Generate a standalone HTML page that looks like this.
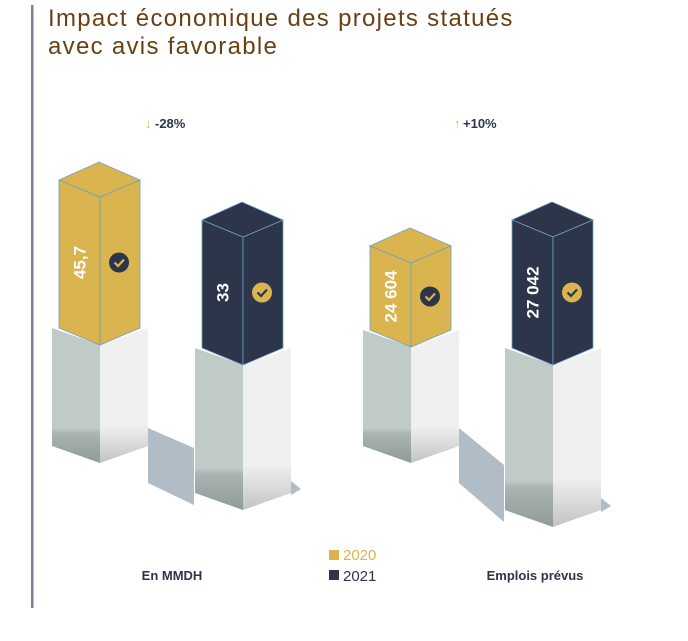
<!DOCTYPE html>
<html><head><meta charset="utf-8"><style>
body{margin:0;background:#fff;width:688px;height:636px;overflow:hidden;font-family:"Liberation Sans",sans-serif}
</style></head><body>
<svg width="688" height="636" viewBox="0 0 688 636">
<defs>
<linearGradient id="gl" x1="0" y1="0" x2="0" y2="1"><stop offset="0" stop-color="#c0cac6"/><stop offset="0.74" stop-color="#c0cac6"/><stop offset="0.78" stop-color="#aab4b2"/><stop offset="1" stop-color="#8f9a9a"/></linearGradient>
<linearGradient id="gr" x1="0" y1="0" x2="0" y2="1"><stop offset="0" stop-color="#f0f0f0"/><stop offset="0.72" stop-color="#f0f0f0"/><stop offset="1" stop-color="#c2c4c4"/></linearGradient>
</defs>
<rect x="31" y="5" width="2.5" height="603" fill="#7b8294"/>
<text x="48" y="26" font-size="24" letter-spacing="1.3" fill="#6b3f14">Impact économique des projets statués</text>
<text x="48" y="54" font-size="24" letter-spacing="1.3" fill="#6b3f14">avec avis favorable</text>
<g id="marks"></g>
<g><text x="145" y="128" font-size="13" fill="#d9b44f" font-weight="bold">↓</text><text x="155" y="128" font-size="13" font-weight="bold" fill="#2c3549">-28%</text></g>
<g><text x="454" y="128" font-size="13" fill="#d9b44f" font-weight="bold">↑</text><text x="463" y="128" font-size="13" font-weight="bold" fill="#2c3549">+10%</text></g>
<text x="172" y="580" font-size="13" font-weight="bold" fill="#2c3549" text-anchor="middle">En MMDH</text>
<text x="535" y="580" font-size="13" font-weight="bold" fill="#2c3549" text-anchor="middle">Emplois prévus</text>
<g><rect x="329" y="550" width="10" height="10" fill="#d9b44f"/><text x="343" y="560" font-size="15" fill="#d9b44f">2020</text></g>
<g><rect x="329" y="570" width="10" height="10" fill="#2c3549"/><text x="343" y="581" font-size="15" fill="#2c3549">2021</text></g>
</svg>
<script>
const categories = ["En MMDH", "Emplois prévus"];
const series2020 = [45.7, 24604];
const series2021 = [33, 27042];
const labels2020 = ["45,7", "24 604"];
const labels2021 = ["33", "27 042"];

const NS = "http://www.w3.org/2000/svg";
const g = document.getElementById("marks");
function scaleMMDH(v){ return 76 + 1.575 * v; }
function scaleEmplois(v){ return -360 + 0.01805 * v; }
const scales = [scaleMMDH, scaleEmplois];
const layout = [
  {x:[59,202], base:[345,365], pedBottom:[463,510]},
  {x:[370,512], base:[347,365], pedBottom:[463,527]}
];
function poly(pts, fill, name, stroke){
  const p = document.createElementNS(NS, "polygon");
  p.setAttribute("points", pts.map(a=>a.join(",")).join(" "));
  p.setAttribute("fill", fill);
  if (stroke){ p.setAttribute("stroke", stroke); p.setAttribute("stroke-width", "0.8"); }
  
  
  g.appendChild(p);
  return p;
}
const S = 17;
function pedestal(xl, xm, xr, top, bottom, name){
  poly([[xl,top-S],[xm,top],[xm,bottom],[xl,bottom-S]], "url(#gl)", name + "-left");
  poly([[xm,top],[xr,top-S],[xr,bottom-S],[xm,bottom]], "url(#gr)", name + "-right");
}
function bar(xl, xm, xr, base, h, color, label, checkColor, name){
  const t = base - h;
  const edge = "#6fa0c0";
  poly([[xl,t-S],[xm,t],[xm,base],[xl,base-S]], color, name + "-left", edge);
  poly([[xm,t],[xr,t-S],[xr,base-S],[xm,base]], color, name + "-right", edge);
  poly([[xl,t-S],[xm-1,t-2*S-1],[xr,t-S],[xm,t]], color, name + "-top", edge);
  const cy = (t + base) / 2 - S / 2;
  const tx = document.createElementNS(NS, "text");
  const lx = (xl + xm) / 2 + 6;
  tx.setAttribute("x", lx); tx.setAttribute("y", cy);
  tx.setAttribute("transform", `rotate(-90 ${lx} ${cy})`);
  tx.setAttribute("text-anchor", "middle");
  tx.setAttribute("font-size", "17"); tx.setAttribute("font-weight", "bold"); tx.setAttribute("fill", "#fff");
  tx.textContent = label;
  
  
  g.appendChild(tx);
  const cx = (xm + xr) / 2 - 1;
  const c = document.createElementNS(NS, "circle");
  c.setAttribute("cx", cx); c.setAttribute("cy", cy); c.setAttribute("r", 10); c.setAttribute("fill", checkColor);
  
  
  g.appendChild(c);
  const ck = document.createElementNS(NS, "path");
  ck.setAttribute("d", `M${cx-4.5},${cy} L${cx-1},${cy+3.5} L${cx+5},${cy-3}`);
  ck.setAttribute("stroke", checkColor === "#2c3549" ? "#d9b44f" : "#2c3549");
  ck.setAttribute("stroke-width", "2.2"); ck.setAttribute("fill", "none");
  
  
  g.appendChild(ck);
}
categories.forEach((cat, i) => {
  const L = layout[i];
  const sc = scales[i];
  const ax = L.x[0] + 89, bx = L.x[1] - 8;
  poly([[ax, L.pedBottom[0]-35],[bx, L.pedBottom[1]-62],[bx, L.pedBottom[1]-5],[ax, L.pedBottom[0]+20]], "#b0bcc6", "floor-shadow-" + i);
  poly([[L.x[1]+89, L.pedBottom[1]-S-12],[L.x[1]+99, L.pedBottom[1]-S-4],[L.x[1]+89, L.pedBottom[1]-S+2]], "#b0bcc6", "floor-shadow-end-" + i);
  const vals = [series2020[i], series2021[i]];
  const labs = [labels2020[i], labels2021[i]];
  const cols = ["#d9b44f", "#2c3549"];
  const checks = ["#2c3549", "#d9b44f"];
  vals.forEach((v, j) => {
    const xl = L.x[j], xm = xl + 41, xr = xl + 81;
    pedestal(xl - 7, xm, xr + 8, L.base[j], L.pedBottom[j], `pedestal-${i}-${j}`);
    bar(xl, xm, xr, L.base[j], sc(v), cols[j], labs[j], checks[j], `bar-${i}-${2020 + j}`);
  });
});
</script>
</body></html>
